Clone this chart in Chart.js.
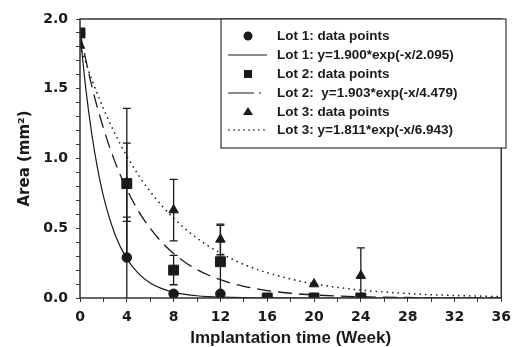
<!DOCTYPE html>
<html>
<head>
<meta charset="utf-8">
<script src="https://cdn.jsdelivr.net/npm/chart.js@4.4.0/dist/chart.umd.min.js"></script>
<style>
  html, body { margin: 0; padding: 0; background: #fff; }
  #wrap { width: 518px; height: 347px; }
</style>
</head>
<body>
<div id="wrap"><canvas id="chart" width="518" height="347"></canvas></div>
<script>
// measured data (weeks / mm2)
var lot1Weeks = [0, 4, 8, 12, 16, 20, 24];
var lot1Area = [1.90, 0.29, 0.03, 0.03, 0.0, 0.0, 0.0];
var lot1Err = [0, 0.29, 0, 0, 0, 0, 0];

var lot2Weeks = [0, 4, 8, 12, 16, 20, 24];
var lot2Area = [1.90, 0.82, 0.20, 0.26, 0.0, 0.0, 0.0];
var lot2Err = [0, 0.54, 0.105, 0.26, 0, 0, 0];

var lot3Weeks = [0, 4, 8, 12, 20, 24];
var lot3Area = [1.81, 0.83, 0.63, 0.42, 0.10, 0.16];
var lot3Err = [0, 0.28, 0.22, 0.11, 0, 0.20];

// fitted curves, values
var fit1Weeks = [0, 0.5, 1, 1.5, 2, 3, 4, 5, 6, 7, 8, 9, 10, 11, 12, 14, 16, 20, 36];
var fit1Area = [1.900, 1.497, 1.179, 0.929, 0.731, 0.454, 0.282, 0.175, 0.108, 0.067, 0.042, 0.026, 0.016, 0.010, 0.006, 0.002, 0.001, 0.0, 0.0];
var fit2Weeks = [0, 1, 2, 3, 4, 5, 6, 7, 8, 9, 10, 11, 12, 13, 14, 15, 16, 17, 18, 19, 20, 22, 24, 26, 28, 30, 32, 36];
var fit2Area = [1.903, 1.522, 1.218, 0.974, 0.779, 0.623, 0.499, 0.399, 0.319, 0.255, 0.204, 0.163, 0.131, 0.104, 0.084, 0.067, 0.053, 0.043, 0.034, 0.027, 0.022, 0.014, 0.009, 0.006, 0.004, 0.002, 0.0015, 0.0006];
var fit3Weeks = [0, 1, 2, 3, 4, 5, 6, 7, 8, 9, 10, 11, 12, 13, 14, 15, 16, 17, 18, 19, 20, 21, 22, 23, 24, 26, 28, 30, 32, 34, 36];
var fit3Area = [1.811, 1.568, 1.358, 1.176, 1.018, 0.881, 0.763, 0.661, 0.572, 0.495, 0.429, 0.371, 0.322, 0.278, 0.241, 0.209, 0.181, 0.157, 0.136, 0.117, 0.102, 0.088, 0.076, 0.066, 0.057, 0.043, 0.032, 0.024, 0.018, 0.014, 0.010];

var legendLabels = [
  "Lot 1: data points",
  "Lot 1: y=1.900*exp(-x/2.095)",
  "Lot 2: data points",
  "Lot 2:  y=1.903*exp(-x/4.479)",
  "Lot 3: data points",
  "Lot 3: y=1.811*exp(-x/6.943)"
];

var ink = "#1a1a1a";
var fontFam = "'Liberation Sans', Arial, sans-serif";
var axisFam = "'DejaVu Sans', sans-serif";

function pts(xs, ys) {
  return xs.map(function (x, i) { return { x: x, y: ys[i] }; });
}

const errorBars = {
  id: "errorBars",
  beforeDatasetsDraw(chart) {
    const c = chart.ctx, xs = chart.scales.x, ys = chart.scales.y;
    const sets = [[lot1Weeks, lot1Area, lot1Err], [lot2Weeks, lot2Area, lot2Err], [lot3Weeks, lot3Area, lot3Err]];
    c.save();
    c.strokeStyle = ink;
    c.lineWidth = 1.3;
    sets.forEach(function (s) {
      s[0].forEach(function (w, i) {
        const e = s[2][i];
        if (!e) return;
        const px = xs.getPixelForValue(w);
        const top = ys.getPixelForValue(s[1][i] + e);
        const bot = ys.getPixelForValue(Math.max(0, s[1][i] - e));
        c.beginPath();
        c.moveTo(px, top); c.lineTo(px, bot);
        c.moveTo(px - 4, top); c.lineTo(px + 4, top);
        if (s[1][i] - e > 0) { c.moveTo(px - 4, bot); c.lineTo(px + 4, bot); }
        c.stroke();
      });
    });
    c.restore();
  }
};

const frameAndLegend = {
  id: "frameAndLegend",
  afterDatasetsDraw(chart) {
    const c = chart.ctx, a = chart.chartArea;
    c.save();
    c.strokeStyle = "#333";
    c.lineWidth = 1.5;
    c.strokeRect(a.left, a.top, a.right - a.left, a.bottom - a.top);
    // legend box
    const bx = 221, by = a.top, bw = 285, bh = 129;
    c.fillStyle = "#fff";
    c.fillRect(bx, by, bw, bh);
    c.lineWidth = 1.2;
    c.strokeRect(bx, by, bw, bh);
    c.fillStyle = ink;
    c.strokeStyle = ink;
    c.font = "bold 13.5px " + fontFam;
    c.textBaseline = "middle";
    const rows = [36, 55, 74, 93, 112, 130];
    legendLabels.forEach(function (t, i) {
      const y = rows[i];
      c.fillText(t, 277, y);
      const sx = 248;
      c.lineWidth = 1.2;
      if (i === 0) { c.beginPath(); c.arc(sx, y, 4.5, 0, Math.PI * 2); c.fill(); }
      if (i === 2) { c.fillRect(sx - 4, y - 4, 8, 8); }
      if (i === 4) { c.beginPath(); c.moveTo(sx, y - 5); c.lineTo(sx + 5, y + 3); c.lineTo(sx - 5, y + 3); c.closePath(); c.fill(); }
      if (i === 1 || i === 3 || i === 5) {
        c.setLineDash(i === 1 ? [] : i === 3 ? [26, 5, 2, 40] : [2, 3]);
        c.beginPath(); c.moveTo(228, y); c.lineTo(267, y); c.stroke();
        c.setLineDash([]);
      }
    });
    c.restore();
  }
};

new Chart(document.getElementById("chart"), {
  type: "scatter",
  data: {
    datasets: [
      { label: "Lot 1: data points", data: pts(lot1Weeks, lot1Area), pointStyle: "circle", pointRadius: 4.8, backgroundColor: ink, borderColor: ink, showLine: false },
      { label: "Lot 2: data points", data: pts(lot2Weeks, lot2Area), pointStyle: "rect", pointRadius: 7, backgroundColor: ink, borderColor: ink, showLine: false },
      { label: "Lot 3: data points", data: pts(lot3Weeks, lot3Area), pointStyle: "triangle", pointRadius: 5.5, backgroundColor: ink, borderColor: ink, showLine: false },
      { label: "Lot 1 fit", data: pts(fit1Weeks, fit1Area), showLine: true, pointRadius: 0, borderColor: ink, borderWidth: 1.2, cubicInterpolationMode: "monotone" },
      { label: "Lot 2 fit", data: pts(fit2Weeks, fit2Area), showLine: true, pointRadius: 0, borderColor: ink, borderWidth: 1.3, borderDash: [14, 7], cubicInterpolationMode: "monotone" },
      { label: "Lot 3 fit", data: pts(fit3Weeks, fit3Area), showLine: true, pointRadius: 0, borderColor: ink, borderWidth: 1.5, borderDash: [1.5, 4], cubicInterpolationMode: "monotone" }
    ]
  },
  options: {
    responsive: false,
    animation: false,
    layout: { padding: { top: 19, right: 10, left: 0, bottom: 0 } },
    plugins: { legend: { display: false }, tooltip: { enabled: false } },
    scales: {
      x: {
        type: "linear", min: 0, max: 36,
        afterFit: function (s) { s.height = 49; },
        ticks: {
          stepSize: 2, padding: 7, color: ink, autoSkip: false, maxRotation: 0,
          font: { family: axisFam, size: 14, weight: "bold" },
          callback: function (v) { return v % 4 === 0 ? String(v) : ""; }
        },
        grid: { drawOnChartArea: false, tickLength: 4, color: "#333" },
        border: { display: false },
        title: { display: true, text: "Implantation time (Week)", color: ink, font: { family: fontFam, size: 17, weight: "bold", lineHeight: 1 }, padding: { top: 2, bottom: 0 } }
      },
      y: {
        min: 0, max: 2.0,
        afterFit: function (s) { s.width = 80; },
        ticks: {
          stepSize: 0.1, padding: 8, color: ink, autoSkip: false,
          font: { family: axisFam, size: 14, weight: "bold" },
          callback: function (v) { return Math.abs(v * 2 - Math.round(v * 2)) < 1e-6 ? v.toFixed(1) : ""; }
        },
        grid: { drawOnChartArea: false, tickLength: 4, color: "#333" },
        border: { display: false },
        title: { display: true, text: "Area (mm\u00b2)", color: ink, font: { family: axisFam, size: 15, weight: "bold" }, padding: { top: 16, bottom: 4 } }
      }
    }
  },
  plugins: [errorBars, frameAndLegend]
});
</script>
</body>
</html>
